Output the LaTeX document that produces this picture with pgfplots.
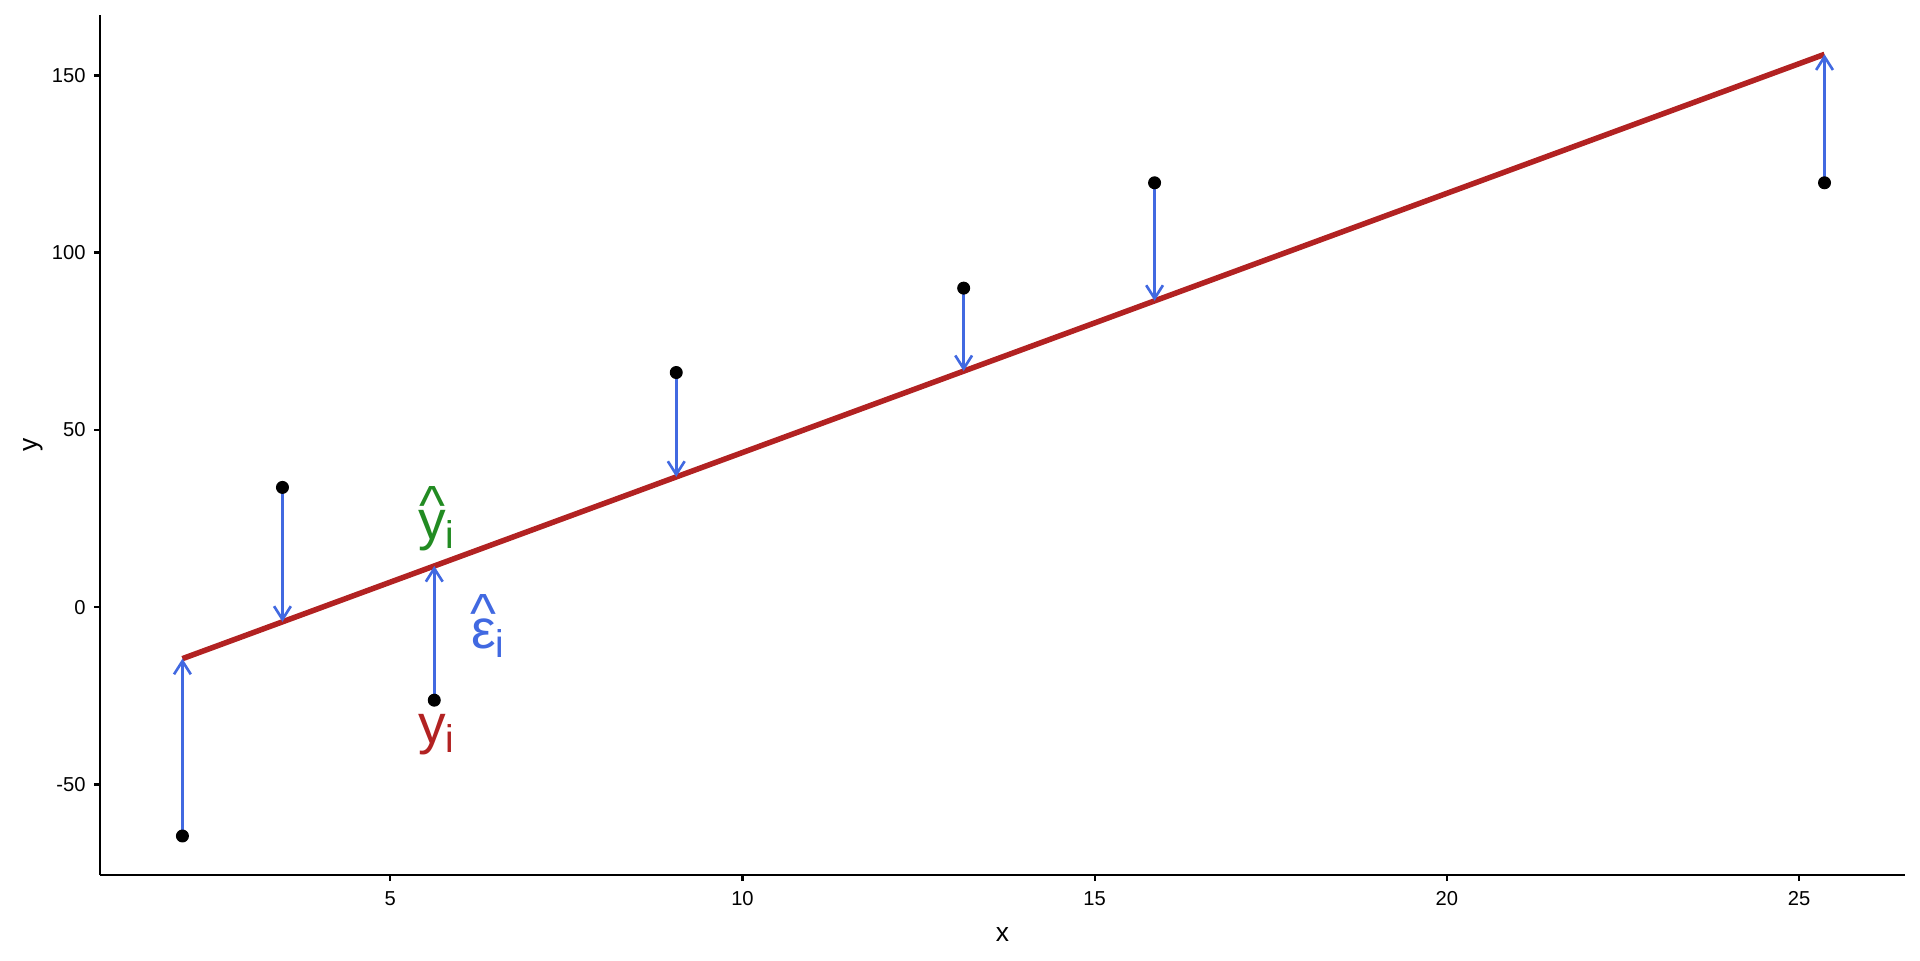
\documentclass[border=0pt]{standalone}
\usepackage{fontspec}
\setmainfont{Liberation Sans}
\usepackage{graphicx}
\usepackage{pgfplots}
\pgfplotsset{compat=1.18}
\usetikzlibrary{arrows.meta}
\definecolor{fire}{HTML}{B22222}
\definecolor{royal}{HTML}{4169E1}
\definecolor{forest}{HTML}{228B22}
\newcommand\hatover[1]{\ooalign{#1\cr\hidewidth\raisebox{0.28em}{\textasciicircum}\hidewidth\cr}}
\begin{document}
\begin{tikzpicture}
\useasboundingbox (0,0) rectangle (800pt,400pt);
\begin{axis}[
  at={(41.67pt,35.42pt)}, anchor=south west,
  scale only axis, width=752pt, height=358.3pt,
  xmin=0.88, xmax=26.5, ymin=-75.5, ymax=167,
  axis lines=left, axis line style={line width=1pt, -},
  tick align=outside, major tick length=2.5pt,
  tick style={line width=1pt, black},
  xtick={5,10,15,20,25}, ytick={-50,0,50,100,150},
  xticklabels={5,10,15,20,25}, yticklabels={-50,0,50,100,150},
  ticklabel style={font=\fontsize{8.4}{9}\selectfont},
  xticklabel style={yshift=-1pt},
  xlabel={x}, ylabel={y},
  label style={font=\fontsize{11}{12}\selectfont},
  xlabel style={yshift=-2pt},
  ylabel style={yshift=-3pt},
  clip=false,
]
% fitted line
\addplot[fire, line width=2.3pt] coordinates {(2.05,-14.49) (25.36,155.93)};
% residual arrows
\pgfplotsset{resid/.style={royal, line width=1.1pt, -{Straight Barb[length=5.5pt,width=7pt,line width=1.1pt]}}}
\addplot[resid] coordinates {(2.05,-64.5) (2.05,-14.49)};
\addplot[resid] coordinates {(3.47,33.8) (3.47,-4.11)};
\addplot[resid] coordinates {(5.625,-26.2) (5.625,11.64)};
\addplot[resid] coordinates {(9.06,66.2) (9.06,36.76)};
\addplot[resid] coordinates {(13.14,90.0) (13.14,66.59)};
\addplot[resid] coordinates {(15.85,119.7) (15.85,86.40)};
\addplot[resid] coordinates {(25.36,119.7) (25.36,155.93)};
% observed points
\addplot[only marks, mark=*, mark size=2.5pt, black] coordinates {
  (2.05,-64.5) (3.47,33.8) (5.625,-26.2) (9.06,66.2) (13.14,90.0) (15.85,119.7) (25.36,119.7)};
% annotations
\node[text=forest, font=\fontsize{23}{24}\selectfont, anchor=base west, inner sep=0pt] at (axis cs:5.39,19.1) {\hatover{y}\textsubscript{i}};
\node[text=royal, font=\fontsize{23}{24}\selectfont, anchor=base west, inner sep=0pt] at (axis cs:6.14,-11.5) {\hatover{ε}\textsubscript{i}};
\node[text=fire, font=\fontsize{23}{24}\selectfont, anchor=base west, inner sep=0pt] at (axis cs:5.39,-38.5) {y\textsubscript{i}};
\end{axis}
\end{tikzpicture}
\end{document}
